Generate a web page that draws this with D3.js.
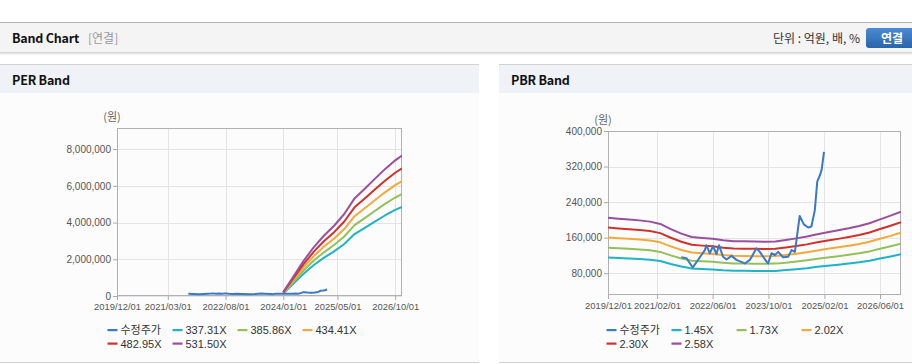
<!DOCTYPE html>
<html><head><meta charset="utf-8">
<script src="https://cdn.jsdelivr.net/npm/d3@7"></script>
<style>
body{margin:0;background:#fff;}
svg{display:block;font-family:"Liberation Sans",Arial,"Noto Sans CJK KR",sans-serif;}
.kr{font-family:"Noto Sans CJK KR","Liberation Sans",sans-serif;}
</style></head><body><svg id="c" width="912" height="364"></svg>
<script>
// ---------- DATA ----------
const seriesNamesPER = ["수정주가","337.31X","385.86X","434.41X","482.95X","531.50X"];
const seriesNamesPBR = ["수정주가","1.45X","1.73X","2.02X","2.30X","2.58X"];
const seriesColors = ["#3a78c8","#1eb4c6","#93c05a","#f2a93b","#d0312d","#9c4e9e"];

const perXTicks = ["2019/12/01","2021/03/01","2022/08/01","2024/01/01","2025/05/01","2026/10/01"];
const pbrXTicks = ["2019/12/01","2021/02/01","2022/06/01","2023/10/01","2025/02/01","2026/06/01"];
const perYTicks = [0,2000000,4000000,6000000,8000000];
const pbrYTicks = [80000,160000,240000,320000,400000];

const priceDates = ["2021-09-01","2021-10-15","2021-12-10","2022-01-20","2022-03-25","2022-04-08","2022-05-07","2022-06-05","2022-07-04","2022-07-27","2022-08-31","2022-09-30","2022-11-13","2022-12-26","2023-03-09","2023-04-22","2023-06-19","2023-07-18","2023-09-14","2023-09-28","2023-10-28","2023-11-26","2023-12-25","2024-02-06","2024-03-21","2024-04-20","2024-05-19","2024-06-30","2024-08-05","2024-09-12","2024-10-10","2024-11-09","2024-11-30","2024-12-24","2025-01-07","2025-01-28"];
const priceValues = [116000,114000,93000,108000,132000,143000,125000,141000,123000,143000,117000,111000,119000,110000,102000,110000,136000,128000,106000,102000,125000,121000,128000,116000,117000,132000,128000,209000,190000,183000,185000,222000,286000,301000,312000,353000];

const perBandDates = ["2024-01-01","2024-04-01","2024-07-01","2024-10-01","2025-01-01","2025-04-01","2025-07-01","2025-10-01","2026-01-01","2026-04-01","2026-07-01","2026-10-01","2026-12-01"];
const per33731 = [134900,674600,1214300,1686600,2091300,2428600,2833400,3373100,3710400,4047700,4385000,4688600,4857300];
const per38586 = [154300,771700,1389100,1929300,2392300,2778200,3241200,3858600,4244500,4630300,5016200,5363500,5556400];
const per43441 = [173800,868800,1563900,2172100,2693300,3127800,3649000,4344100,4778500,5212900,5647300,6038300,6255500];
const per48295 = [193200,965900,1738600,2414800,2994300,3477200,4056800,4829500,5312500,5795400,6278400,6713000,6954500];
const per53150 = [212600,1063000,1913400,2657500,3295300,3826800,4464600,5315000,5846500,6378000,6909500,7387900,7653600];

const pbrBandDates = ["2019-12-01","2020-03-01","2020-06-01","2020-09-01","2020-12-01","2021-03-01","2021-06-01","2021-09-01","2021-12-01","2022-03-01","2022-06-01","2022-09-01","2022-12-01","2023-03-01","2023-06-01","2023-09-01","2023-12-01","2024-03-01","2024-06-01","2024-09-01","2024-12-01","2025-03-01","2025-06-01","2025-09-01","2025-12-01","2026-03-01","2026-06-01","2026-09-01","2026-12-01"];
const pbr145 = [115100,114000,113000,111800,110200,107300,100800,95000,90800,89600,88600,86700,85600,85300,85000,84800,85100,87000,89000,91400,94300,96900,99200,101800,104700,108200,113100,117700,122700];
const pbr173 = [137400,136000,134800,133400,131500,128000,120200,113300,108300,106900,105700,103500,102100,101700,101400,101200,101600,103800,106200,109000,112500,115600,118300,121400,124900,129100,134900,140500,146400];
const pbr202 = [160400,158800,157400,155700,153500,149500,140400,132300,126500,124800,123400,120800,119200,118800,118400,118200,118600,121200,124000,127300,131300,134900,138200,141800,145800,150700,157600,164000,170900];
const pbr230 = [182600,180800,179200,177300,174800,170200,159900,150700,144000,142100,140500,137500,135700,135200,134800,134600,135000,138000,141200,144900,149500,153600,157300,161500,166100,171600,179400,186800,194600];
const pbr258 = [204900,202800,201000,198900,196100,190900,179300,169000,161500,159400,157600,154300,152200,151700,151200,150900,151400,154800,158400,162500,167700,172300,176500,181100,186300,192500,201200,209500,218300];

// ---------- LAYOUT ----------
const svg = d3.select("#c");
const parse = d3.timeParse("%Y-%m-%d");
const parseTick = d3.timeParse("%Y/%m/%d");
const fmt = d3.format(",");

// header bar
svg.append("rect").attr("x",0).attr("y",22).attr("width",912).attr("height",1).attr("fill","#b4b4b4");
svg.append("rect").attr("x",0).attr("y",23).attr("width",912).attr("height",29).attr("fill","#f4f4f4");
svg.append("rect").attr("x",0).attr("y",52).attr("width",912).attr("height",1).attr("fill","#d6d6d6");
svg.append("rect").attr("x",0).attr("y",53).attr("width",912).attr("height",1).attr("fill","#e6e6e6");
svg.append("rect").attr("x",0).attr("y",54).attr("width",912).attr("height",1).attr("fill","#f2f2f2");
svg.append("text").attr("class","kr").attr("x",12).attr("y",43).attr("font-size",12.5).attr("font-weight","bold").attr("letter-spacing",-0.2).attr("fill","#111").text("Band Chart");
svg.append("text").attr("class","kr").attr("x",88).attr("y",43).attr("font-size",12).attr("fill","#999").text("[연결]");
svg.append("text").attr("class","kr").attr("x",860).attr("y",43).attr("text-anchor","end").attr("font-size",12).attr("fill","#333").text("단위 : 억원, 배, %");
const defs = svg.append("defs");
const g = defs.append("linearGradient").attr("id","btn").attr("x1",0).attr("x2",0).attr("y1",0).attr("y2",1);
g.append("stop").attr("offset","0").attr("stop-color","#4b8bd2");
g.append("stop").attr("offset","1").attr("stop-color","#2a64a9");
svg.append("rect").attr("x",866).attr("y",28).attr("width",54).attr("height",20).attr("rx",3).attr("fill","url(#btn)");
svg.append("text").attr("class","kr").attr("x",892).attr("y",43).attr("text-anchor","middle").attr("font-size",12).attr("font-weight","bold").attr("fill","#fff").text("연결");

// panels
function panel(x,w,title){
  svg.append("rect").attr("x",x).attr("y",64).attr("width",w).attr("height",1).attr("fill","#d2d2d2");
  svg.append("rect").attr("x",x).attr("y",65).attr("width",w).attr("height",28).attr("fill","#eff2f7");
  svg.append("rect").attr("x",x).attr("y",93).attr("width",w).attr("height",269).attr("fill","#fcfcfc");
  svg.append("rect").attr("x",x).attr("y",362).attr("width",w).attr("height",1).attr("fill","#d2d2d2");
  svg.append("text").attr("class","kr").attr("x",x+12).attr("y",85).attr("font-size",12.5).attr("font-weight","bold").attr("letter-spacing",-0.2).attr("fill","#111").text(title);
}
panel(0,479,"PER Band");
panel(499,413,"PBR Band");

function chart(cfg){
  const x = d3.scaleTime().domain([parse("2019-12-01"),parse("2026-12-01")]).range([cfg.left,cfg.right]);
  const y = d3.scaleLinear().domain(cfg.yDomain).range([cfg.bottom,cfg.top]);
  const G = svg.append("g");
  // grid
  G.selectAll(".vg").data(cfg.xTicks).join("line")
    .attr("x1",d=>Math.round(x(parseTick(d)))+0.5).attr("x2",d=>Math.round(x(parseTick(d)))+0.5)
    .attr("y1",cfg.top).attr("y2",cfg.bottom).attr("stroke","#e4e4e4");
  G.selectAll(".hg").data(cfg.yTicks).join("line")
    .attr("x1",cfg.left).attr("x2",cfg.right)
    .attr("y1",d=>Math.round(y(d))+0.5).attr("y2",d=>Math.round(y(d))+0.5).attr("stroke","#e4e4e4");
  // axes
  const ya = d3.axisLeft(y).tickValues(cfg.yTicks).tickFormat(fmt).tickSize(4).tickPadding(2);
  const yg = G.append("g").attr("transform",`translate(${cfg.left},0)`).call(ya);
  yg.select(".domain").remove();
  yg.selectAll("line").attr("stroke","#aaa");
  yg.selectAll("text").attr("font-size",10).attr("fill","#555").attr("font-family","Liberation Sans, Arial, sans-serif");
  const xa = d3.axisBottom(x).tickValues(cfg.xTicks.map(parseTick)).tickFormat(d3.timeFormat("%Y/%m/%d")).tickSize(4).tickPadding(3);
  const xg = G.append("g").attr("transform",`translate(0,${cfg.bottom})`).call(xa);
  xg.select(".domain").remove();
  xg.selectAll("line").attr("stroke","#aaa");
  xg.selectAll("text").attr("font-size",9.4).attr("fill","#555").attr("font-family","Liberation Sans, Arial, sans-serif");
  // border
  G.append("rect").attr("x",cfg.left+0.5).attr("y",cfg.top+0.5).attr("width",cfg.right-cfg.left-1).attr("height",cfg.bottom-cfg.top-1)
    .attr("fill","none").attr("stroke","#b0b0b0");
  G.append("text").attr("class","kr").attr("x",cfg.unitX).attr("y",cfg.top-7).attr("text-anchor","middle").attr("font-size",11).attr("fill","#666").text("(원)");
  // lines
  const clip = "clip"+cfg.left;
  defs.append("clipPath").attr("id",clip).append("rect").attr("x",cfg.left).attr("y",cfg.top).attr("width",cfg.right-cfg.left).attr("height",cfg.bottom-cfg.top);
  const L = G.append("g").attr("clip-path",`url(#${clip})`);
  const line = d3.line().x(d=>x(d[0])).y(d=>y(d[1]));
  cfg.bands.forEach((vals,i)=>{
    L.append("path").datum(cfg.bandDates.map((d,j)=>[parse(d),vals[j]]))
      .attr("d",line).attr("fill","none").attr("stroke",seriesColors[i+1]).attr("stroke-width",2).attr("stroke-linejoin","round");
  });
  L.append("path").datum(priceDates.map((d,j)=>[parse(d),priceValues[j]]))
    .attr("d",line).attr("fill","none").attr("stroke",seriesColors[0]).attr("stroke-width",2).attr("stroke-linejoin","round");
  // legend
  cfg.names.forEach((n,i)=>{
    const lx = cfg.legX + (i%4)*65, ly = (i<4?330:343.5);
    svg.append("rect").attr("x",lx).attr("y",ly-1).attr("width",10).attr("height",2.2).attr("fill",seriesColors[i]);
    svg.append("text").attr("class",i===0?"kr":null).attr("x",lx+13).attr("y",ly+4).attr("font-size",11).attr("fill","#333").text(n);
  });
}

chart({left:117,right:402,top:128,bottom:296,yDomain:[0,9150000],xTicks:perXTicks,yTicks:perYTicks,unitX:112,
  bandDates:perBandDates,bands:[per33731,per38586,per43441,per48295,per53150],names:seriesNamesPER,legX:107.5});
chart({left:608,right:901,top:131,bottom:295,yDomain:[31000,400000],xTicks:pbrXTicks,yTicks:pbrYTicks,unitX:603,
  bandDates:pbrBandDates,bands:[pbr145,pbr173,pbr202,pbr230,pbr258],names:seriesNamesPBR,legX:606.5});
</script></body></html>
